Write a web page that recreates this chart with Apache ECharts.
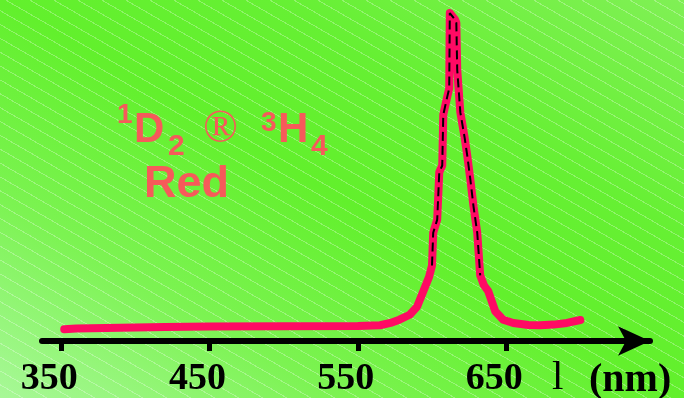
<!DOCTYPE html>
<html>
<head>
<meta charset="utf-8">
<script src="https://cdn.jsdelivr.net/npm/echarts@6/dist/echarts.min.js"></script>
<style>
  html, body { margin: 0; padding: 0; }
  #main {
    width: 684px; height: 398px;
    background:
      repeating-linear-gradient(30deg, rgba(255,255,255,0) 0px, rgba(255,255,255,0) 11px, rgba(255,255,255,0.28) 11px, rgba(255,255,255,0.28) 12px),
      linear-gradient(to top right, #a8f898 0%, #7cf352 25%, #62f02c 50%, #66f033 70%, #80f055 100%);
  }
</style>
</head>
<body>
<div id="main"></div>
<script>
// emission spectrum
const wavelength = [352, 360, 370, 380, 400, 420, 450, 500, 550, 565, 572, 578, 585, 590, 594, 598,
  600, 600.8, 603.5, 604.9, 606.9, 607.6, 610.3, 611.6, 612, 613, 615.5, 616.4, 617, 619.1, 622,
  623.8, 625.8, 628, 630.5, 632.5, 635, 637.9, 642.6, 648, 654.8, 665, 673, 682, 691, 700];
const intensity = [3.6, 3.8, 3.9, 4.0, 4.1, 4.3, 4.4, 4.5, 4.6, 4.8, 5.5, 6.5, 8.0, 10.5, 15.0, 19.5,
  23, 33, 37, 51.5, 53.5, 69, 74.5, 77, 100, 100, 98, 97, 82.7, 69.7, 62,
  56.4, 49.4, 41, 33, 20, 17, 15.2, 9.1, 6.5, 5.5, 4.9, 4.8, 5.0, 5.5, 6.4];
const tickValues = [350, 450, 550, 650];
const traceFrom = 600, traceTo = 632.5;

const curve = wavelength.map((w, i) => [w, intensity[i]]);
const trace = curve.filter(p => p[0] >= traceFrom && p[0] <= traceTo);

const pink = '#ff0a64';
const salmon = '#f65a5a';
const sans = '"Liberation Sans", Arial, sans-serif';
const serif = '"Liberation Serif", "Times New Roman", serif';

let myChart = echarts.init(document.getElementById('main'));
let option = {
  animation: false,
  grid: { left: 42, right: 34, top: 13, bottom: 57 },
  xAxis: {
    type: 'value',
    min: 337,
    max: 747,
    splitLine: { show: false },
    axisLine: {
      show: true,
      symbol: ['none', 'arrow'],
      symbolSize: [22, 32],
      lineStyle: { color: '#000', width: 6 }
    },
    axisTick: {
      show: true,
      customValues: tickValues,
      length: 10,
      lineStyle: { color: '#000', width: 5 }
    },
    axisLabel: {
      customValues: tickValues,
      margin: 19,
      padding: [0, 24, 0, 0],
      color: '#000',
      fontFamily: serif,
      fontWeight: 'bold',
      fontSize: 38
    }
  },
  yAxis: {
    type: 'value',
    min: 0,
    max: 100,
    show: false
  },
  series: [
    {
      name: 'emission',
      type: 'line',
      showSymbol: false,
      smooth: false,
      data: curve,
      lineStyle: { color: pink, width: 8, join: 'round', cap: 'round' }
    },
    {
      name: 'trace',
      type: 'line',
      showSymbol: false,
      data: trace,
      lineStyle: { color: '#000', width: 2, type: [9, 5] }
    }
  ],
  graphic: [
    { type: 'text', style: { text: '1', x: 117, y: 129, font: 'bold 28px ' + sans, fill: salmon, textVerticalAlign: 'bottom' } },
    { type: 'text', style: { text: 'D', x: 134, y: 151, font: 'bold 42px ' + sans, fill: salmon, textVerticalAlign: 'bottom' } },
    { type: 'text', style: { text: '2', x: 168, y: 162, font: 'bold 30px ' + sans, fill: salmon, textVerticalAlign: 'bottom' } },
    { type: 'text', style: { text: '®', x: 203, y: 153, font: '46px ' + serif, fill: salmon, textVerticalAlign: 'bottom' } },
    { type: 'text', style: { text: '3', x: 261, y: 137, font: 'bold 28px ' + sans, fill: salmon, textVerticalAlign: 'bottom' } },
    { type: 'text', style: { text: 'H', x: 278, y: 151, font: 'bold 42px ' + sans, fill: salmon, textVerticalAlign: 'bottom' } },
    { type: 'text', style: { text: '4', x: 311, y: 162, font: 'bold 30px ' + sans, fill: salmon, textVerticalAlign: 'bottom' } },
    { type: 'text', style: { text: 'Red', x: 144, y: 207, font: 'bold 45px ' + sans, fill: salmon, textVerticalAlign: 'bottom' } },
    { type: 'text', style: { text: 'l', x: 552, y: 399, font: '41px ' + serif, fill: '#000', textVerticalAlign: 'bottom' } },
    { type: 'text', style: { text: '(nm)', x: 589, y: 401, font: 'bold 40px ' + serif, fill: '#000', textVerticalAlign: 'bottom' } }
  ]
};
myChart.setOption(option);

window.addEventListener('resize', function () {
  myChart.resize();
}, false);
</script>
</body>
</html>
